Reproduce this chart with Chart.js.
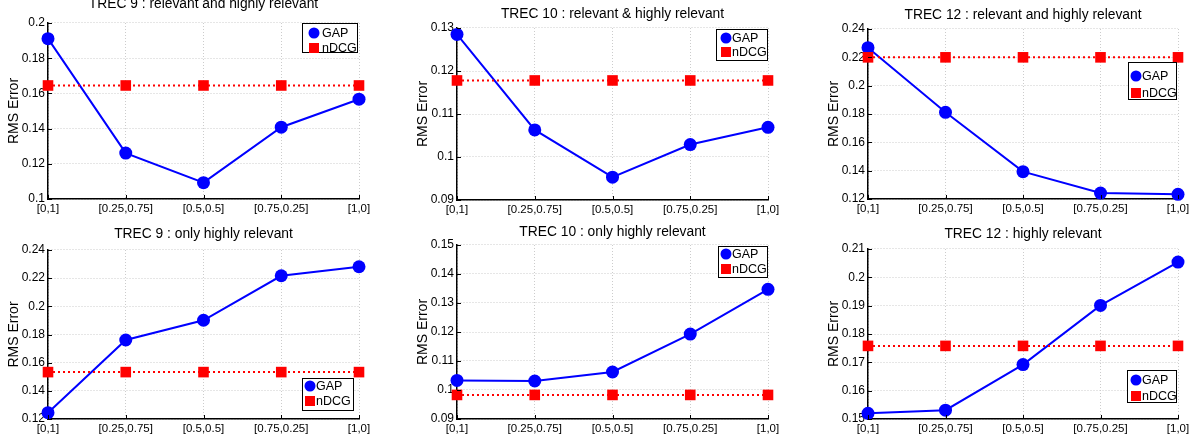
<!DOCTYPE html>
<html>
<head>
<meta charset="utf-8">
<script src="https://cdn.jsdelivr.net/npm/chart.js@4/dist/chart.umd.min.js"></script>
<style>
  body { margin: 0; width: 1191px; height: 437px; overflow: hidden; background: #fff; position: relative; }
  canvas { position: absolute; }
</style>
</head>
<body>
<script>
// data
const categories = ["[0,1]", "[0.25,0.75]", "[0.5,0.5]", "[0.75,0.25]", "[1,0]"];
const seriesNames = ["GAP", "nDCG"];
const titles = [
  "TREC 9 : relevant and highly relevant",
  "TREC 10 : relevant & highly relevant",
  "TREC 12 : relevant and highly relevant",
  "TREC 9 : only highly relevant",
  "TREC 10 : only highly relevant",
  "TREC 12 : highly relevant"
];

const gapTrec9Rel = [0.1911, 0.1261, 0.1093, 0.1408, 0.1567];
const ndcgTrec9Rel = [0.1645, 0.1645, 0.1645, 0.1645, 0.1645];
const gapTrec10Rel = [0.1285, 0.1063, 0.0953, 0.1029, 0.1069];
const ndcgTrec10Rel = [0.1178, 0.1178, 0.1178, 0.1178, 0.1178];
const gapTrec12Rel = [0.2268, 0.1812, 0.1393, 0.1242, 0.1233];
const ndcgTrec12Rel = [0.2200, 0.2200, 0.2200, 0.2200, 0.2200];
const gapTrec9High = [0.1245, 0.1761, 0.1901, 0.2217, 0.2281];
const ndcgTrec9High = [0.1533, 0.1533, 0.1533, 0.1533, 0.1533];
const gapTrec10High = [0.1033, 0.1031, 0.1062, 0.1193, 0.1347];
const ndcgTrec10High = [0.0983, 0.0983, 0.0983, 0.0983, 0.0983];
const gapTrec12High = [0.1520, 0.1531, 0.1692, 0.1901, 0.2054];
const ndcgTrec12High = [0.1758, 0.1758, 0.1758, 0.1758, 0.1758];

// y ranges [min, max, step]
const yRanges = [
  [0.10, 0.20, 0.02],
  [0.09, 0.13, 0.01],
  [0.12, 0.24, 0.02],
  [0.12, 0.24, 0.02],
  [0.09, 0.15, 0.01],
  [0.15, 0.21, 0.01]
];

const gapSeries = [gapTrec9Rel, gapTrec10Rel, gapTrec12Rel, gapTrec9High, gapTrec10High, gapTrec12High];
const ndcgSeries = [ndcgTrec9Rel, ndcgTrec10Rel, ndcgTrec12Rel, ndcgTrec9High, ndcgTrec10High, ndcgTrec12High];

// plot boxes on the page: left, top, right, bottom, title centre y
// legend: x, y, w, h, row1, row2, marker x, text x
const panels = [
  { l: 48,  t: 23,  r: 359,  b: 199, ty: 4,   leg: [302, 23, 56, 30, 10, 25, 12, 20] },
  { l: 457, t: 28,  r: 768,  b: 200, ty: 14,  leg: [716, 29, 52, 32, 9, 23, 10, 16] },
  { l: 868, t: 29,  r: 1178, b: 199, ty: 15,  leg: [1128, 62, 49, 38, 14, 31, 8, 14] },
  { l: 48,  t: 250, r: 359,  b: 419, ty: 234, leg: [302, 378, 52, 33, 8, 23, 8, 14] },
  { l: 457, t: 245, r: 768,  b: 419, ty: 232, leg: [718, 246, 50, 32, 8, 23, 8, 14] },
  { l: 868, t: 249, r: 1178, b: 419, ty: 234, leg: [1127, 370, 50, 33, 10, 26, 9, 15] }
];

const FONT = "'Liberation Sans', Arial, Helvetica, sans-serif";

// matlab style: inward ticks + legend box inside the axes
const matlabBits = {
  id: "matlabBits",
  afterDraw(chart, args, opts) {
    const c = chart.ctx;
    const a = chart.chartArea;
    c.save();
    c.strokeStyle = "#000";
    c.lineWidth = 1;
    chart.scales.y.ticks.forEach(function (t) {
      const y = Math.round(chart.scales.y.getPixelForValue(t.value)) + 0.5;
      c.beginPath(); c.moveTo(a.left, y); c.lineTo(a.left + 4, y); c.stroke();
    });
    chart.scales.x.ticks.forEach(function (t, i) {
      const x = Math.round(chart.scales.x.getPixelForTick(i)) + 0.5;
      c.beginPath(); c.moveTo(x, a.bottom); c.lineTo(x, a.bottom - 4); c.stroke();
    });

    const L = opts.box;
    const x0 = L[0] - opts.offX, y0 = L[1] - opts.offY;
    c.fillStyle = "#fff";
    c.fillRect(x0, y0, L[2], L[3]);
    c.strokeStyle = "#000";
    c.lineWidth = 1;
    c.strokeRect(x0 + 0.5, y0 + 0.5, L[2] - 1, L[3] - 1);
    c.font = "12.5px " + FONT;
    c.textBaseline = "middle";
    c.textAlign = "left";
    // GAP row
    c.fillStyle = "#0000ff";
    c.beginPath(); c.arc(x0 + L[6], y0 + L[4], 5.5, 0, Math.PI * 2); c.fill();
    c.fillStyle = "#000";
    c.fillText(seriesNames[0], x0 + L[7], y0 + L[4] + 1);
    // nDCG row
    c.fillStyle = "#ff0000";
    c.fillRect(x0 + L[6] - 5, y0 + L[5] - 5, 10, 10);
    c.fillStyle = "#000";
    c.fillText(seriesNames[1], x0 + L[7], y0 + L[5] + 1);
    c.restore();
  }
};

panels.forEach(function (p, i) {
  const canvas = document.createElement("canvas");
  const left = p.l - 48;
  const top = p.ty - 10;
  const w = p.r - p.l + 48 + 30;
  const h = p.b - top + 24;
  canvas.width = w;
  canvas.height = h;
  canvas.style.left = left + "px";
  canvas.style.top = top + "px";
  document.body.appendChild(canvas);

  const yr = yRanges[i];

  new Chart(canvas.getContext("2d"), {
    type: "line",
    data: {
      labels: categories,
      datasets: [
        {
          label: seriesNames[0],
          data: gapSeries[i],
          borderColor: "#0000ff",
          backgroundColor: "#0000ff",
          borderWidth: 2,
          pointStyle: "circle",
          pointRadius: 6.5,
          pointBorderWidth: 0,
          clip: false,
          order: 1
        },
        {
          label: seriesNames[1],
          data: ndcgSeries[i],
          borderColor: "#ff0000",
          backgroundColor: "#ff0000",
          borderWidth: 2,
          borderDash: [2, 3],
          pointStyle: "rect",
          pointRadius: 7.5,
          pointBorderWidth: 0,
          clip: false,
          order: 0
        }
      ]
    },
    options: {
      responsive: false,
      animation: false,
      events: [],
      layout: { padding: { left: 0, right: 30, top: 0, bottom: 0 } },
      plugins: {
        legend: { display: false },
        tooltip: { enabled: false },
        title: {
          display: true,
          text: titles[i],
          fullSize: false,
          color: "#000",
          font: { family: FONT, size: 13.8, weight: "normal", lineHeight: 1.2 },
          padding: { top: 1.7, bottom: p.t - top - 18.26 }
        },
        matlabBits: { box: p.leg, offX: left, offY: top }
      },
      scales: {
        x: {
          type: "category",
          offset: false,
          afterFit: function (s) { s.height = 24; },
          grid: { color: "#cccccc", lineWidth: 1, drawTicks: false },
          border: { display: true, color: "#000", width: 1.5, dash: [1, 2] },
          ticks: {
            color: "#000",
            padding: 3,
            maxRotation: 0,
            autoSkip: false,
            font: { family: FONT, size: 11.5 }
          }
        },
        y: {
          min: yr[0],
          max: yr[1],
          afterFit: function (s) { s.width = 48; },
          grid: { color: "#cccccc", lineWidth: 1, drawTicks: false },
          border: { display: true, color: "#000", width: 1.5, dash: [1, 2] },
          ticks: {
            stepSize: yr[2],
            color: "#000",
            padding: 3,
            font: { family: FONT, size: 12 },
            callback: function (v) { return String(Number(v.toFixed(3))); }
          },
          title: {
            display: true,
            text: "RMS Error",
            color: "#000",
            font: { family: FONT, size: 14 },
            padding: { top: 6, bottom: 0 }
          }
        }
      }
    },
    plugins: [matlabBits]
  });
});
</script>
</body>
</html>
